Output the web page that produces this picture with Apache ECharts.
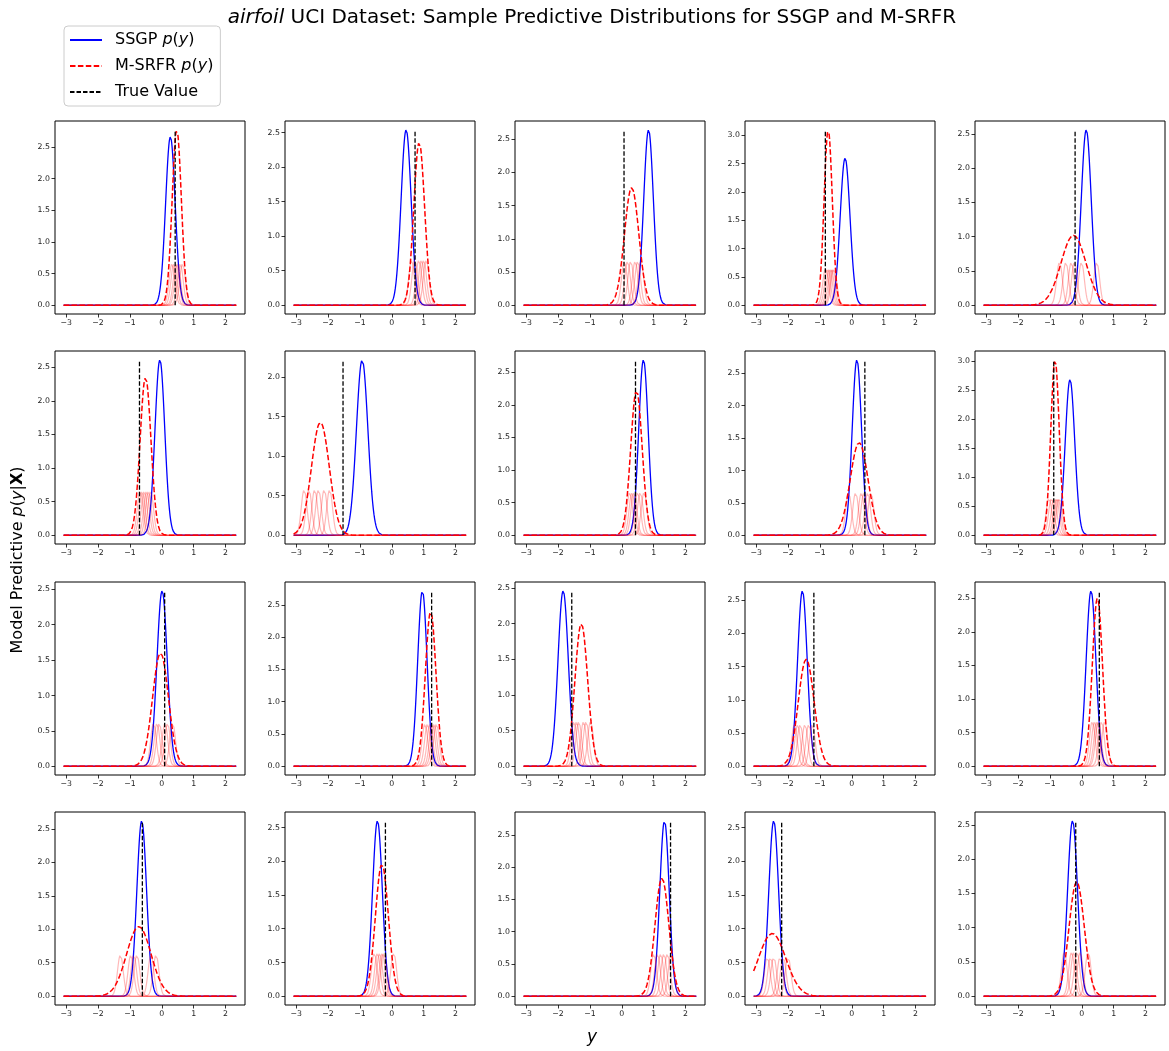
<!DOCTYPE html>
<html><head><meta charset="utf-8">
<script src="https://cdn.jsdelivr.net/npm/echarts@6/dist/echarts.min.js"></script>
<style>html,body{margin:0;padding:0;background:#fff}#c{width:1169px;height:1051px}</style>
</head><body><div id="c"></div>
<script>
// ---- data (row-major, 4 rows x 5 columns) ----
const xTicks = [-3, -2, -1, 0, 1, 2];
const yTickStep = 0.5;
const xRange = [-3.08, 2.34];
const ssgpMean = [0.27, 0.45, 0.84, -0.21, 0.14,  -0.06, -0.93, 0.68, 0.16, -0.37,  0.01, 0.96, -1.84, -1.55, 0.29,  -0.63, -0.45, 1.34, -2.45, -0.29];
const ssgpPeak = [2.66, 2.54, 2.64, 2.60, 2.56,  2.61, 2.22, 2.69, 2.71, 2.68,  2.48, 2.72, 2.46, 2.64, 2.61,  2.62, 2.60, 2.72, 2.60, 2.56];
const mixMean  = [0.47, 0.86, 0.31, -0.74, -0.26,  -0.51, -2.24, 0.46, 0.23, -0.84,  -0.04, 1.22, -1.27, -1.43, 0.49,  -0.72, -0.31, 1.26, -2.50, -0.16];
const mixPeak  = [2.77, 2.36, 1.77, 3.10, 1.02,  2.35, 1.43, 2.22, 1.43, 3.02,  1.60, 2.40, 2.00, 1.61, 2.50,  1.04, 1.96, 1.83, 0.93, 1.67];
const trueValue = [0.42, 0.73, 0.07, -0.83, -0.21,  -0.70, -1.53, 0.43, 0.41, -0.88,  0.09, 1.25, -1.57, -1.19, 0.55,  -0.61, -0.20, 1.53, -2.20, -0.19];
const compPeak = [0.66, 0.66, 0.665, 0.66, 0.63,  0.66, 0.58, 0.66, 0.66, 0.65,  0.61, 0.66, 0.63, 0.63, 0.67,  0.62, 0.645, 0.66, 0.585, 0.65];
const compMeans = [
  [0.32, 0.38, 0.45, 0.50, 0.58, 0.65],
  [0.62, 0.72, 0.85, 0.93, 1.00, 1.08],
  [0.08, 0.18, 0.28, 0.42, 0.50, 0.60],
  [-0.82, -0.76, -0.70, -0.65, -0.60, -0.56],
  [-0.70, -0.50, -0.33, -0.23, -0.01, 0.47],
  [-0.68, -0.62, -0.55, -0.48, -0.42, -0.35],
  [-2.75, -2.60, -2.42, -2.30, -2.12, -1.95],
  [0.25, 0.32, 0.38, 0.50, 0.58, 0.70],
  [-0.10, 0.12, 0.30, 0.38, 0.50, 0.60],
  [-1.03, -0.95, -0.87, -0.80, -0.75, -0.70],
  [-0.26, -0.15, -0.08, 0.10, 0.18, 0.34],
  [1.04, 1.12, 1.20, 1.27, 1.33, 1.40],
  [-1.50, -1.42, -1.35, -1.20, -1.12, -0.98],
  [-1.80, -1.70, -1.62, -1.47, -1.35, -1.24],
  [0.33, 0.40, 0.47, 0.52, 0.62, 0.72],
  [-1.30, -0.97, -0.88, -0.78, -0.34, -0.18],
  [-0.55, -0.45, -0.38, -0.30, -0.25, 0.06],
  [1.00, 1.12, 1.22, 1.32, 1.43, 1.55],
  [-2.65, -2.55, -2.45, -2.25, -2.15, -2.00],
  [-0.55, -0.32, -0.25, -0.15, -0.05, 0.20]
];
const compSigma = 0.09;
const NAME_SSGP = 'SSGP p(y)', NAME_MIX = 'M-SRFR p(y)', NAME_TRUE = 'True Value';

// ---- layout ----
const colLeft = [55, 285, 515, 745, 975];
const rowTop = [121, 351, 582, 812];
const cellW = 190, cellH = 193;
const FONT = 'DejaVu Sans';

const SQ2PI = Math.sqrt(2 * Math.PI);
const NPTS = 543;
const xs = [];
for (let i = 0; i < NPTS; i++) xs.push(xRange[0] + (xRange[1] - xRange[0]) * i / (NPTS - 1));
function density(mu, peak, sigma) { return xs.map(x => [x, peak * Math.exp(-0.5 * ((x - mu) / sigma) ** 2)]); }
const fmt = (v, d) => { const s = Math.abs(v).toFixed(d); return v < -1e-9 ? '\u2212' + s : s; };

const xSpan = xRange[1] - xRange[0];
const xMin = xRange[0] - 0.05 * xSpan, xMax = xRange[1] + 0.05 * xSpan;

const grids = [], xAxes = [], yAxes = [], series = [];
for (let k = 0; k < 20; k++) {
  const r = Math.floor(k / 5), c = k % 5;
  grids.push({ left: colLeft[c], top: rowTop[r], width: cellW, height: cellH, show: true, borderColor: '#000', borderWidth: 1, backgroundColor: 'rgba(0,0,0,0)', containLabel: false });
  const top = Math.max(ssgpPeak[k], mixPeak[k], compPeak[k]);
  const yMin = -0.05 * top, yMax = 1.05 * top;
  const yTicks = [];
  for (let v = 0; v <= yMax + 1e-9; v += yTickStep) yTicks.push(+v.toFixed(2));
  xAxes.push({
    gridIndex: k, type: 'value', min: xMin, max: xMax, position: 'bottom',
    axisLine: { show: false, onZero: false }, splitLine: { show: false },
    axisTick: { show: true, length: 3.5, customValues: xTicks, lineStyle: { color: '#000', width: 0.8 } },
    axisLabel: { show: true, customValues: xTicks, margin: 5, fontSize: 7.8, fontFamily: FONT, color: '#222', formatter: v => fmt(v, 0) }
  });
  yAxes.push({
    gridIndex: k, type: 'value', min: yMin, max: yMax, position: 'left',
    axisLine: { show: false, onZero: false }, splitLine: { show: false },
    axisTick: { show: true, length: 3.5, customValues: yTicks, lineStyle: { color: '#000', width: 0.8 } },
    axisLabel: { show: true, customValues: yTicks, margin: 5, fontSize: 7.8, fontFamily: FONT, color: '#222', formatter: v => fmt(v, 1) }
  });
  const base = { type: 'line', xAxisIndex: k, yAxisIndex: k, showSymbol: false, symbol: 'none', animation: false, silent: true };
  series.push(Object.assign({}, base, {
    name: NAME_SSGP, data: density(ssgpMean[k], ssgpPeak[k], 1 / (ssgpPeak[k] * SQ2PI)),
    lineStyle: { color: '#0000ff', width: 1.3 }, itemStyle: { color: '#0000ff' }, z: 2
  }));
  compMeans[k].forEach(m => {
    series.push(Object.assign({}, base, {
      name: 'component', data: density(m, compPeak[k], compSigma),
      lineStyle: { color: 'rgba(255,0,0,0.28)', width: 1.2 }, itemStyle: { color: 'rgba(255,0,0,0.28)' }, z: 3
    }));
  });
  series.push(Object.assign({}, base, {
    name: NAME_MIX, data: density(mixMean[k], mixPeak[k], 1 / (mixPeak[k] * SQ2PI)),
    lineStyle: { color: '#ff0000', width: 1.5, type: [5.5, 2.4] }, itemStyle: { color: '#ff0000' }, z: 4
  }));
  series.push(Object.assign({}, base, {
    name: NAME_TRUE, data: [[trueValue[k], 0], [trueValue[k], top]],
    lineStyle: { color: '#000', width: 1.3, type: [4.5, 2] }, itemStyle: { color: '#000' }, z: 5
  }));
}

const chart = echarts.init(document.getElementById('c'), null, { renderer: 'canvas' });
const LF = 16;
const richL = { n: { fontSize: LF, fontFamily: FONT, color: '#000' }, i: { fontSize: LF, fontFamily: FONT, fontStyle: 'italic', color: '#000' } };
chart.setOption({
  animation: false,
  backgroundColor: '#fff',
  title: {
    text: '{i|airfoil}{n| UCI Dataset: Sample Predictive Distributions for SSGP and M-SRFR}',
    left: 587, top: 3, textAlign: 'center',
    textStyle: { fontSize: 20, fontFamily: FONT, color: '#000', fontWeight: 'normal',
      rich: { i: { fontSize: 20, fontFamily: FONT, fontStyle: 'italic', color: '#000' }, n: { fontSize: 20, fontFamily: FONT, color: '#000' } } }
  },
  legend: {
    data: [NAME_SSGP, NAME_MIX, NAME_TRUE],
    orient: 'vertical', left: 64, top: 26,
    itemWidth: 32, itemHeight: 14, itemGap: 10,
    padding: [6, 7, 6, 5],
    borderColor: '#cccccc', borderWidth: 1, borderRadius: 4, backgroundColor: '#fff',
    selectedMode: false,
    itemStyle: { color: 'rgba(0,0,0,0)', opacity: 0, borderWidth: 0 },
    formatter: name => {
      if (name === NAME_SSGP) return '{n|SSGP }{i|p}{n|(}{i|y}{n|)}';
      if (name === NAME_MIX) return '{n|M-SRFR }{i|p}{n|(}{i|y}{n|)}';
      return '{n|True Value}';
    },
    textStyle: { fontSize: LF, fontFamily: FONT, color: '#000', padding: [0, 0, 0, 8], rich: richL }
  },
  grid: grids, xAxis: xAxes, yAxis: yAxes, series: series,
  graphic: [
    { type: 'text', x: 18, y: 560, rotation: Math.PI / 2, silent: true,
      style: { text: '{n|Model Predictive }{i|p}{n|(}{i|y}{n||}{b|X}{n|)}', align: 'center', verticalAlign: 'middle',
        rich: { n: { fontSize: 16, fontFamily: FONT, fill: '#000', color: '#000' }, i: { fontSize: 16, fontFamily: FONT, fontStyle: 'italic', fill: '#000', color: '#000' }, b: { fontSize: 16, fontFamily: FONT, fontWeight: 'bold', fill: '#000', color: '#000' } } } },
    { type: 'text', x: 592, y: 1038, silent: true,
      style: { text: 'y', fontSize: 17, fontFamily: FONT, fontStyle: 'italic', fill: '#000', align: 'center', verticalAlign: 'middle' } }
  ]
});
</script></body></html>
